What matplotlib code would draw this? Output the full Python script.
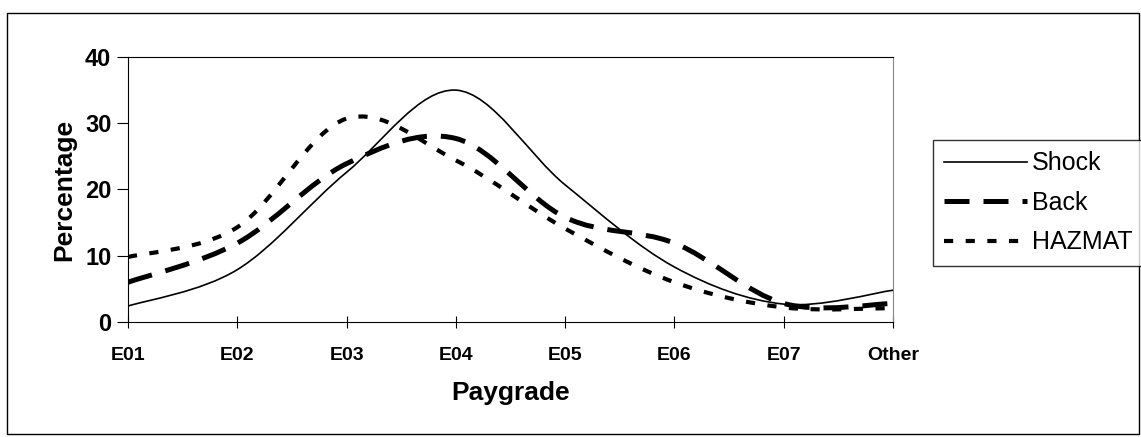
import matplotlib.pyplot as plt
from matplotlib.path import Path
from matplotlib.patches import PathPatch, Rectangle
from matplotlib.lines import Line2D

plt.rcParams['font.family'] = ['Liberation Sans', 'DejaVu Sans']

# data
paygrades = ['E01', 'E02', 'E03', 'E04', 'E05', 'E06', 'E07', 'Other']
shock = [2.4, 7.9, 22.6, 35.0, 20.7, 8.3, 2.7, 4.8]
back = [6.0, 11.9, 23.9, 27.7, 15.8, 11.9, 2.8, 2.8]
hazmat = [9.8, 14.3, 30.7, 24.4, 14.1, 6.0, 2.2, 2.1]


def smooth_path(xs, ys):
    # Excel-style smoothed line: cubic Bezier segments through the points
    n = len(xs)
    verts = [(xs[0], ys[0])]
    codes = [Path.MOVETO]
    for i in range(n - 1):
        i0 = max(i - 1, 0)
        i3 = min(i + 2, n - 1)
        c1 = (xs[i] + (xs[i + 1] - xs[i0]) / 6, ys[i] + (ys[i + 1] - ys[i0]) / 6)
        c2 = (xs[i + 1] - (xs[i3] - xs[i]) / 6, ys[i + 1] - (ys[i3] - ys[i]) / 6)
        verts += [c1, c2, (xs[i + 1], ys[i + 1])]
        codes += [Path.CURVE4] * 3
    return Path(verts, codes)


fig = plt.figure(figsize=(11.41, 4.37), dpi=100)
fig.patches.append(Rectangle((7 / 1141, 1 - 434 / 437), 1132 / 1141, 421 / 437,
                             transform=fig.transFigure, fill=False,
                             edgecolor='black', linewidth=1.0))

ax = fig.add_axes([128 / 1141, 1 - 322 / 437, 765 / 1141, 265 / 437])
xs = list(range(len(paygrades)))

styles = [
    ('Shock', shock, dict(linewidth=1.2, linestyle='-')),
    ('Back', back, dict(linewidth=3.6, linestyle=(0, (5, 2.8)))),
    ('HAZMAT', hazmat, dict(linewidth=3.0, linestyle=(0, (2.2, 3.0)))),
]
handles = []
for name, vals, st in styles:
    ax.add_patch(PathPatch(smooth_path(xs, vals), fill=False, edgecolor='black',
                           capstyle='butt', **st))
    handles.append(Line2D([], [], color='black', **st))

ax.set_xlim(0, len(paygrades) - 1)
ax.set_ylim(0, 40)
ax.set_xticks(xs)
ax.set_xticklabels(paygrades, fontsize=14, fontweight='bold')
ax.set_yticks([0, 10, 20, 30, 40])
ax.set_yticklabels(['0', '10', '20', '30', '40'], fontsize=17, fontweight='bold')
ax.tick_params(axis='x', direction='inout', length=8, pad=14)
ax.tick_params(axis='y', direction='out', length=8, pad=4)
ax.set_xlabel('Paygrade', fontsize=19, fontweight='bold', labelpad=12)
ax.set_ylabel('Percentage', fontsize=19, fontweight='bold', labelpad=6)
ax.spines['right'].set_color('#888888')

leg = fig.legend(handles, [s[0] for s in styles], loc='upper left',
                 bbox_to_anchor=(933 / 1141, 1 - 140 / 437), fontsize=18,
                 handlelength=3.3, handletextpad=0.2, labelspacing=0.62,
                 borderpad=0.45, borderaxespad=0, fancybox=False, frameon=True)
leg.get_frame().set_edgecolor('black')
leg.get_frame().set_linewidth(1.0)

fig.savefig('out.png', dpi=100)
